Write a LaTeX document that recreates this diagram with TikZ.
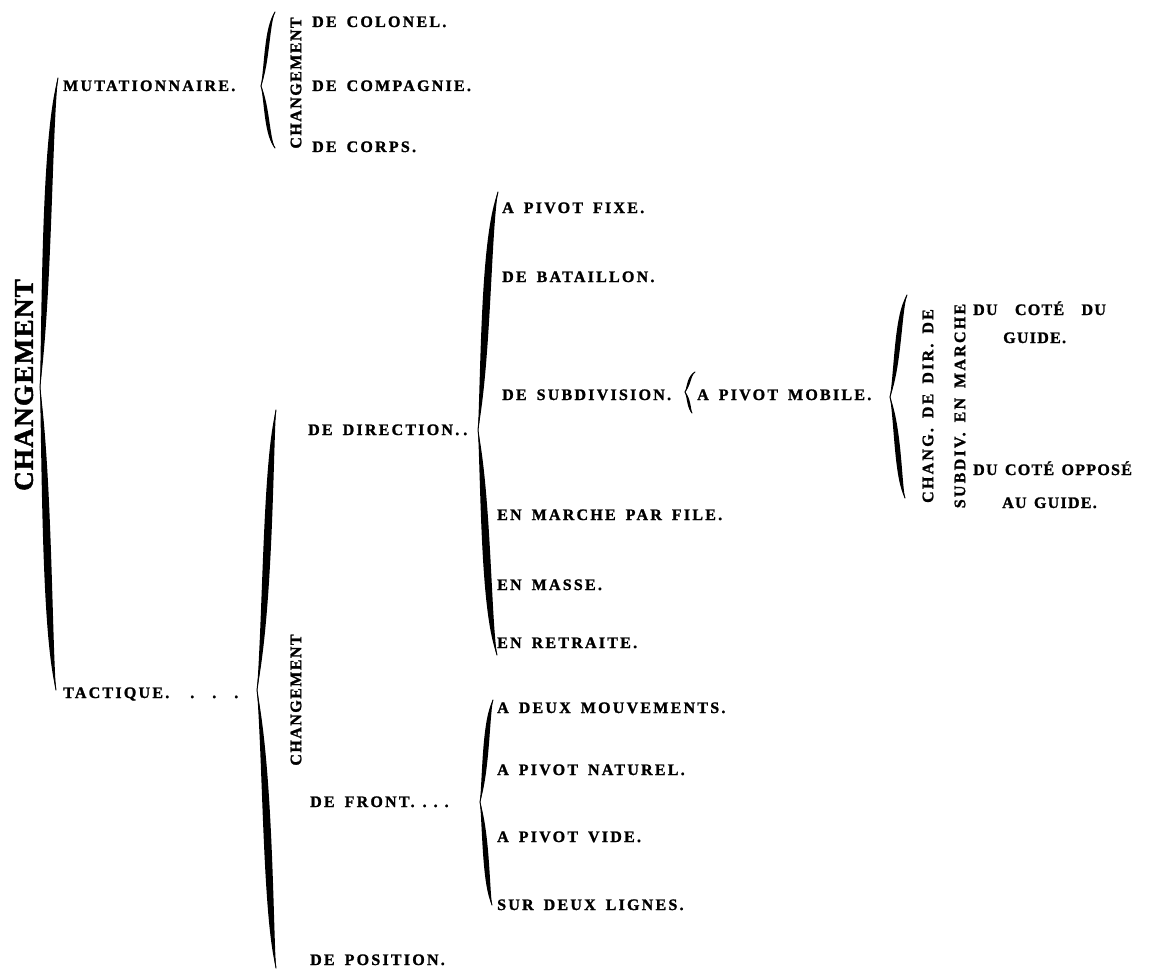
\documentclass[tikz,border=0pt]{standalone}
\usepackage{fontspec}
\newfontfamily\lab{Liberation Serif Bold}[LetterSpace=14,WordSpace=1.6,FakeBold=1.4]
\newfontfamily\labr{Liberation Serif Bold}[LetterSpace=8,WordSpace=1.4,FakeBold=1.4]
\newfontfamily\labbig{Liberation Serif Bold}[LetterSpace=5,FakeBold=1.8]
\newfontfamily\labmid{Liberation Serif Bold}[LetterSpace=9,FakeBold=1.4]
\newcommand\brc[8]{%
 \pgfmathsetmacro\bLu{#5-#2}%
 \pgfmathsetmacro\bLl{#7-#5}%
 \pgfmathsetmacro\bAu{#2+0.18*\bLu}%
 \pgfmathsetmacro\bBu{#5-0.3*\bLu}%
 \pgfmathsetmacro\bAl{#5+0.3*\bLl}%
 \pgfmathsetmacro\bBl{#7-0.18*\bLl}%
 \pgfmathsetmacro\bL{#3-#8}%
 \pgfmathsetmacro\bR{#3+#8}%
 \fill[ink] (#1,#2) .. controls (\bL,\bAu) and (\bL,\bBu) .. (#4,#5) .. controls (\bR,\bBu) and (\bR,\bAu) .. cycle;
 \fill[ink] (#4,#5) .. controls (\bL,\bAl) and (\bL,\bBl) .. (#6,#7) .. controls (\bR,\bBl) and (\bR,\bAl) .. cycle;
 \draw[ink,line width=1pt,line cap=round] (#1,#2) .. controls (#3,\bAu) and (#3,\bBu) .. (#4,#5) .. controls (#3,\bAl) and (#3,\bBl) .. (#6,#7);
}
\begin{document}
\begin{tikzpicture}[x=1pt,y=-1pt,
  ink/.style={black},
  item/.style={anchor=base west, inner sep=0pt, text=black, font=\lab\fontsize{16}{16}\selectfont},
  itemr/.style={anchor=base west, inner sep=0pt, text=black, font=\labr\fontsize{16}{16}\selectfont},
  rot/.style={rotate=90, anchor=center, inner sep=0pt, text=black},
  rotbig/.style={rot, font=\labbig\fontsize{27}{27}\selectfont},
  rotmid/.style={rot, font=\labmid\fontsize{16}{16}\selectfont},
  rotsm/.style={rot, font=\lab\fontsize{16}{16}\selectfont}]
\fill[white] (0,0) rectangle (1149,971);
\useasboundingbox (0,0) rectangle (1149,971);

% rotated headings
\node[rotbig] (chg) at (24,385) {CHANGEMENT};
\node[rotmid] (chg1) at (296,83) {CHANGEMENT};
\node[rotmid] (chg2) at (296,700) {CHANGEMENT};
\node[rotsm] (cd1) at (928,406) {CHANG. DE DIR. DE};
\node[rotsm] (cd2) at (960,406) {SUBDIV. EN MARCHE};

% labels
\node[item] (mut) at (63,91) {MUTATIONNAIRE.};
\node[item] (col) at (312,27) {DE COLONEL.};
\node[item] (cpg) at (312,91) {DE COMPAGNIE.};
\node[item] (crp) at (312,152) {DE CORPS.};
\node[item] (tac) at (63,698) {TACTIQUE.\hspace{21pt}.\hspace{18pt}.\hspace{18pt}.};
\node[item] (dir) at (308,435) {DE DIRECTION.\hspace{4pt}.};
\node[item] (fro) at (310,807) {DE FRONT.\hspace{8pt}.\hspace{7pt}.\hspace{7pt}.};
\node[item] (pos) at (310,965) {DE POSITION.};
\node[item] (pfx) at (502,213) {A PIVOT FIXE.};
\node[item] (bat) at (502,282) {DE BATAILLON.};
\node[item] (sub) at (502,400) {DE SUBDIVISION.};
\node[item] (emf) at (497,520) {EN MARCHE PAR FILE.};
\node[item] (ems) at (497,590) {EN MASSE.};
\node[item] (ert) at (497,648) {EN RETRAITE.};
\node[item] (pmb) at (697,400) {A PIVOT MOBILE.};
\node[itemr] (cdu) at (973,315) {DU\hspace{10pt} COTÉ\hspace{10pt} DU};
\node[itemr] (gd1) at (1003,343) {GUIDE.};
\node[itemr] (cop) at (973,475) {DU COTÉ OPPOSÉ};
\node[itemr] (gd2) at (1002,508) {AU GUIDE.};
\node[item] (dmv) at (497,713) {A DEUX MOUVEMENTS.};
\node[item] (pnt) at (497,775) {A PIVOT NATUREL.};
\node[item] (pvd) at (497,842) {A PIVOT VIDE.};
\node[item] (sdl) at (497,910) {SUR DEUX LIGNES.};

% braces
\brc{58}{78}{47}{40}{387}{56}{690}{5}
\brc{275}{12}{267}{261}{86}{275}{148}{2.5}
\brc{276}{410}{268}{257}{690}{276}{968}{5}
\brc{498}{192}{486}{478}{430}{497}{655}{5}
\brc{695}{372}{689}{685}{392}{692}{413}{1.8}
\brc{907}{295}{898}{890}{397}{905}{498}{3.5}
\brc{493}{700}{486}{480}{802}{492}{905}{3.5}
\end{tikzpicture}
\end{document}
